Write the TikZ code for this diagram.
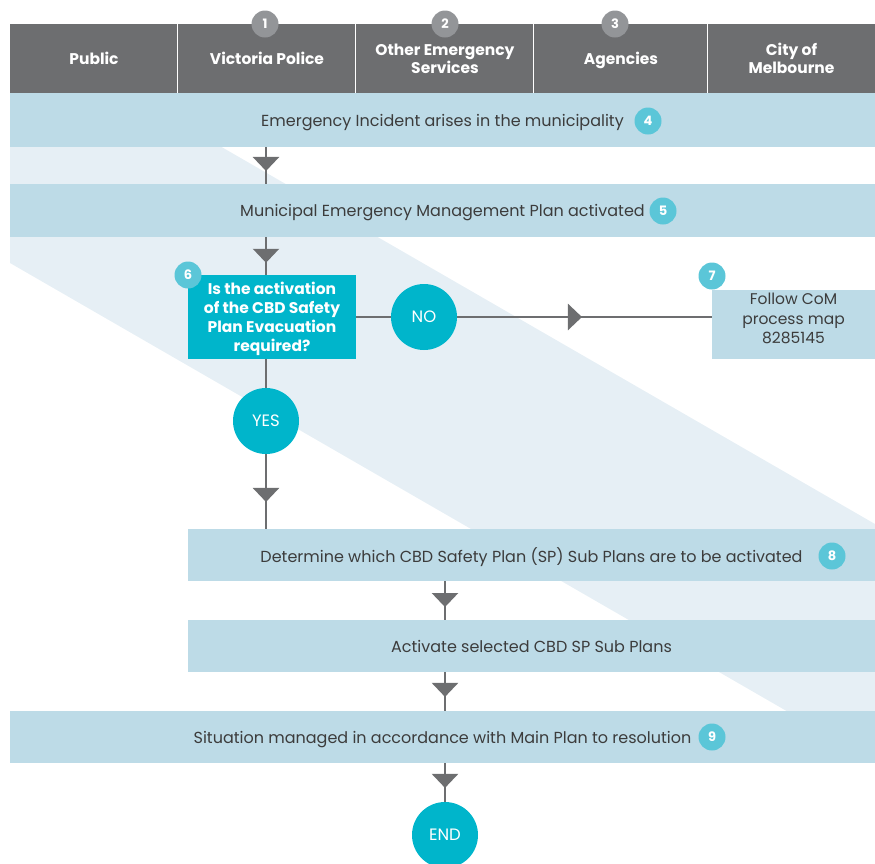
\documentclass[tikz,border=0pt]{standalone}
\usepackage{fontspec}
\setmainfont{Poppins}
\usetikzlibrary{arrows.meta,decorations.markings}
\definecolor{headGray}{RGB}{109,110,112}
\definecolor{badgeGray}{RGB}{147,149,152}
\definecolor{bandBlue}{RGB}{189,219,231}
\definecolor{stripeBlue}{RGB}{230,239,245}
\definecolor{tealDark}{RGB}{0,181,203}
\definecolor{tealLight}{RGB}{91,198,216}
\definecolor{textGray}{RGB}{60,60,60}
\tikzstyle{headCell} = [fill=headGray, inner sep=0, minimum height=69, text depth=0pt, text=white, align=center, font=\bfseries\fontsize{15.5}{18}\selectfont]
\tikzstyle{bandBox} = [fill=bandBlue, inner sep=0, text depth=0pt, text=textGray, align=center, font=\fontsize{16}{19.5}\selectfont]
\tikzstyle{questionBox} = [fill=tealDark, inner sep=0, minimum width=168, minimum height=84, text depth=0pt, text=white, align=center, font=\bfseries\fontsize{15.5}{19}\selectfont]
\tikzstyle{badge} = [circle, fill=tealLight, minimum size=27, inner sep=0, text=white, font=\bfseries\fontsize{13}{13}\selectfont]
\tikzstyle{headBadge} = [badge, fill=badgeGray]
\tikzstyle{answerCircle} = [circle, fill=tealDark, minimum size=66, inner sep=0, text=white, font=\fontsize{16.5}{16.5}\selectfont]
\tikzstyle{flowLine} = [draw=headGray, line width=2.5]
\tikzset{flowArrow/.style={flowLine, postaction={decorate},
  decoration={markings, mark=at position #1 with {\arrow{Triangle[width=26pt,length=14pt]}}}}}

\begin{document}
\begin{tikzpicture}[x=1pt, y=-1pt]
  \useasboundingbox (0,0) rectangle (875,863);

  % diagonal background band
  \fill[stripeBlue] (10,93) -- (128,93) -- (875,524) -- (875,762) -- (10,263) -- cycle;

  % header row
  \node[headCell, minimum width=168] (public) at (94,58.5) {Public};
  \node[headCell, minimum width=178] (police) at (267,58.5) {Victoria Police};
  \node[headCell, minimum width=178] (other) at (445,58.5) {Other Emergency\\Services};
  \node[headCell, minimum width=174] (agencies) at (621,58.5) {Agencies};
  \node[headCell, minimum width=167] (city) at (791.5,58.5) {City of\\Melbourne};
  \foreach \cell in {police, other, agencies, city}
    \draw[white, line width=1.2] (\cell.north west) -- (\cell.south west);
  \node[headBadge] (n1) at (265,24) {1};
  \node[headBadge] (n2) at (445,24) {2};
  \node[headBadge] (n3) at (615,24) {3};

  \coordinate (mainAxis) at (266,0);
  \coordinate (midAxis) at (445,0);

  % flow boxes
  \node[bandBox, minimum width=865, minimum height=54] (incident) at (442.5,120) {Emergency Incident arises in the municipality};
  \node[bandBox, minimum width=865, minimum height=53] (plan) at (442.5,210.5) {Municipal Emergency Management Plan activated};
  \node[questionBox] (question) at (272,317) {Is the activation\\of the CBD Safety\\Plan Evacuation\\required?};
  \node[answerCircle] (no) at (424,317) {NO};
  \node[bandBox, minimum width=163, minimum height=69, text depth=12pt, font=\fontsize{15.5}{19.5}\selectfont] (follow) at (793.5,324.5) {Follow CoM\\process map\\8285145};
  \node[answerCircle] (yes) at (266,421) {YES};
  \node[bandBox, minimum width=687, minimum height=52] (determine) at (531.5,555) {Determine which CBD Safety Plan (SP) Sub Plans are to be activated};
  \node[bandBox, minimum width=687, minimum height=52] (activate) at (531.5,646) {Activate selected CBD SP Sub Plans};
  \node[bandBox, minimum width=865, minimum height=52] (situation) at (442.5,737) {Situation managed in accordance with Main Plan to resolution};
  \node[answerCircle] (finish) at (445,835) {END};

  % step numbers
  \node[badge] (n4) at (648,121) {4};
  \node[badge] (n5) at (663,211) {5};
  \node[badge] (n6) at (188,275) {6};
  \node[badge] (n7) at (712,276) {7};
  \node[badge] (n8) at (832,556) {8};
  \node[badge] (n9) at (712,737) {9};

  % connectors
  \draw[flowArrow=0.65] (incident.south -| mainAxis) -- (plan.north -| mainAxis);
  \draw[flowArrow=0.68] (plan.south -| mainAxis) -- (question.north -| mainAxis);
  \draw[flowLine] (question.east) -- (no.west);
  \draw[flowArrow=0.49] (no.east) -- (follow.west |- no.east);
  \draw[flowLine] (question.south -| yes) -- (yes.north);
  \draw[flowArrow=0.64] (yes.south) -- (determine.north -| yes);
  \draw[flowArrow=0.67] (determine.south -| midAxis) -- (activate.north -| midAxis);
  \draw[flowArrow=0.64] (activate.south -| midAxis) -- (situation.north -| midAxis);
  \draw[flowArrow=0.64] (situation.south -| finish) -- (finish.north);
\end{tikzpicture}
\end{document}
